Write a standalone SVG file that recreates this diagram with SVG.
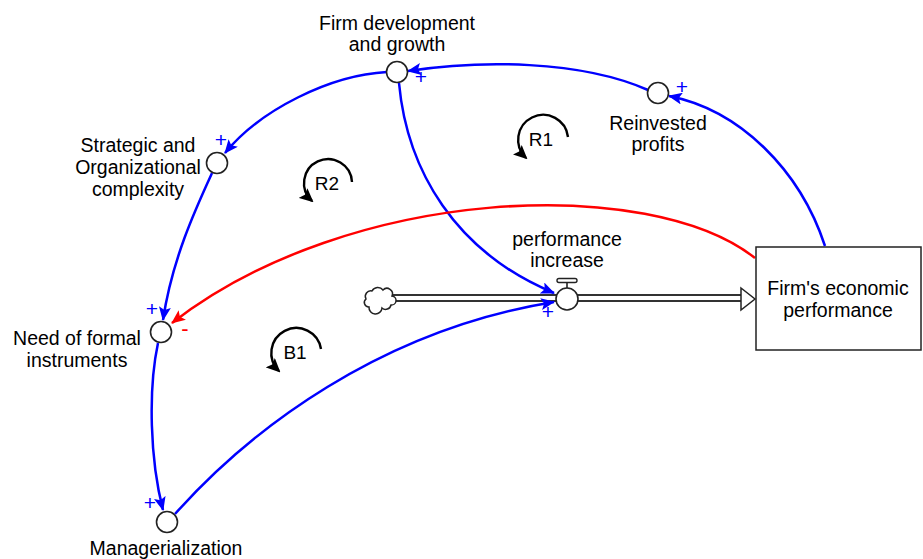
<svg xmlns="http://www.w3.org/2000/svg" width="923" height="559" viewBox="0 0 923 559">
  <style>
    text { font-family: "Liberation Sans", Arial, sans-serif; font-size: 19.5px; fill: #000; }
    .lbl { text-anchor: middle; }
    .var { fill: #fff; stroke: #222; stroke-width: 1.6; }
    .link { fill: none; stroke: #0000ff; stroke-width: 2.5; }
    .neg { fill: none; stroke: #ff0000; stroke-width: 2.5; }
    .pol { font-size: 21px; text-anchor: middle; dominant-baseline: central; fill: #0000ff; }
    .polneg { font-size: 22px; text-anchor: middle; dominant-baseline: central; fill: #ff0000; }
    .loop { fill: none; stroke: #000; stroke-width: 2.4; }
    .loopl { font-size: 19px; text-anchor: middle; dominant-baseline: central; }
  </style>
  <defs>
    <marker id="arrB" viewBox="0 0 14 12" refX="13" refY="6" markerWidth="14" markerHeight="12" markerUnits="userSpaceOnUse" orient="auto">
      <path d="M0,0 L14,6 L0,12 L3,6 Z" fill="#0000ff"/>
    </marker>
    <marker id="arrR" viewBox="0 0 14 12" refX="13" refY="6" markerWidth="14" markerHeight="12" markerUnits="userSpaceOnUse" orient="auto">
      <path d="M0,0 L14,6 L0,12 L3,6 Z" fill="#ff0000"/>
    </marker>
    <marker id="arrK" viewBox="0 0 14 13" refX="12" refY="6.5" markerWidth="14" markerHeight="13" markerUnits="userSpaceOnUse" orient="auto">
      <path d="M0,0 L14,6.5 L0,13 L2.5,6.5 Z" fill="#000"/>
    </marker>
  </defs>

  <!-- flow pipe from the cloud into the stock -->
  <g id="flow">
    <line x1="390" y1="298" x2="742" y2="298" stroke="#333" stroke-width="8"/>
    <line x1="390" y1="298" x2="744" y2="298" stroke="#fff" stroke-width="4"/>
    <polygon points="741,288 755,299 741,310" fill="#fff" stroke="#222" stroke-width="1.5"/>
    <path id="source" d="M369,307 a4.5,4.5 0 0 1 -3,-8 a5.5,5.5 0 0 1 6,-8 a6.5,6.5 0 0 1 11,-1 a5.5,5.5 0 0 1 9,6 a4.5,4.5 0 0 1 -1,9 a5.5,5.5 0 0 1 -9,3 a6.5,6.5 0 0 1 -13,-1 Z" fill="#fff" stroke="#222" stroke-width="1.5"/>
  </g>

  <!-- causal links -->
  <g id="connectors">
    <path class="link" d="M387,72 C330,75 260,110 225,153" marker-end="url(#arrB)"/>
    <path class="link" d="M212,173 C195,210 172,260 163,320" marker-end="url(#arrB)"/>
    <path class="link" d="M158,343 C148,390 150,460 163,510" marker-end="url(#arrB)"/>
    <path class="link" d="M175,514 C250,430 380,330 554,302" marker-end="url(#arrB)"/>
    <path class="link" d="M399,83 C407,170 455,252 554,293" marker-end="url(#arrB)"/>
    <path class="link" d="M825,246 C800,170 740,110 669,96" marker-end="url(#arrB)"/>
    <path class="link" d="M648,90 C580,60 480,60 408,71" marker-end="url(#arrB)"/>
    <path class="neg" d="M755,258 C650,175 350,185 172,323" marker-end="url(#arrR)"/>
    <text class="pol" x="421" y="76">+</text>
    <text class="pol" x="682" y="86">+</text>
    <text class="pol" x="221" y="139">+</text>
    <text class="pol" x="152" y="308">+</text>
    <text class="polneg" x="185" y="328">-</text>
    <text class="pol" x="150" y="502">+</text>
    <text class="pol" x="548" y="311">+</text>
  </g>

  <g id="firm-development">
    <circle class="var" cx="397" cy="72" r="10.5"/>
    <text class="lbl" x="397" y="30">Firm development</text>
    <text class="lbl" x="397" y="51">and growth</text>
  </g>

  <g id="reinvested-profits">
    <circle class="var" cx="658" cy="93" r="10.5"/>
    <text class="lbl" x="658" y="130">Reinvested</text>
    <text class="lbl" x="658" y="151">profits</text>
  </g>

  <g id="strategic-complexity">
    <circle class="var" cx="217" cy="163" r="10.5"/>
    <text class="lbl" x="138" y="152">Strategic and</text>
    <text class="lbl" x="138" y="174">Organizational</text>
    <text class="lbl" x="138" y="196">complexity</text>
  </g>

  <g id="need-formal-instruments">
    <circle class="var" cx="161" cy="332" r="10.5"/>
    <text class="lbl" x="77" y="345">Need of formal</text>
    <text class="lbl" x="77" y="367">instruments</text>
  </g>

  <g id="managerialization">
    <circle class="var" cx="167" cy="522" r="10.5"/>
    <text class="lbl" x="166" y="555">Managerialization</text>
  </g>

  <g id="performance-increase">
    <rect x="557" y="278.5" width="20" height="4" rx="2" fill="#fff" stroke="#222" stroke-width="1.4"/>
    <line x1="567" y1="282.5" x2="567" y2="288" stroke="#222" stroke-width="1.6"/>
    <circle class="var" cx="567" cy="299" r="11"/>
    <text class="lbl" x="567" y="246">performance</text>
    <text class="lbl" x="567" y="267">increase</text>
  </g>

  <g id="economic-performance">
    <rect x="756" y="247" width="165" height="103" fill="#fff" stroke="#222" stroke-width="1.5"/>
    <text class="lbl" x="838" y="295">Firm's economic</text>
    <text class="lbl" x="838" y="317">performance</text>
  </g>

  <!-- loop markers -->
  <g id="loop-R1">
    <path class="loop" d="M568,137 A25,25 0 1 0 526,158" marker-end="url(#arrK)"/>
    <text class="loopl" x="541" y="139">R1</text>
  </g>
  <g id="loop-R2">
    <path class="loop" d="M352,182 A24,24 0 1 0 312,201" marker-end="url(#arrK)"/>
    <text class="loopl" x="327" y="183">R2</text>
  </g>
  <g id="loop-B1">
    <path class="loop" d="M321,349 A25,25 0 1 0 279,371" marker-end="url(#arrK)"/>
    <text class="loopl" x="295" y="352">B1</text>
  </g>
</svg>
